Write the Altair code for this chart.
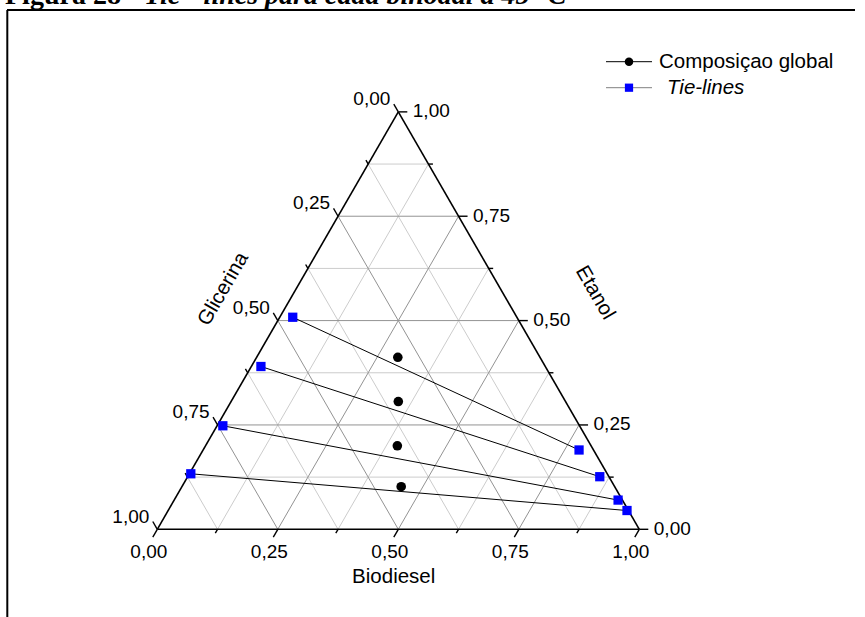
import math
import altair as alt
import pandas as pd

S3 = math.sqrt(3) / 2

# ---------------- data (mass fractions) ----------------
tie_left_biodiesel = [0.027, 0.020, 0.012, 0.003]
tie_left_etanol = [0.508, 0.390, 0.248, 0.133]
tie_left_glicerina = [0.465, 0.590, 0.740, 0.864]

tie_right_biodiesel = [0.780, 0.855, 0.921, 0.952]
tie_right_etanol = [0.190, 0.126, 0.070, 0.045]
tie_right_glicerina = [0.030, 0.019, 0.009, 0.003]

global_biodiesel = [0.293, 0.347, 0.398, 0.455]
global_etanol = [0.412, 0.306, 0.200, 0.102]
global_glicerina = [0.295, 0.347, 0.402, 0.443]

tick_values = [0.0, 0.125, 0.25, 0.375, 0.5, 0.625, 0.75, 0.875, 1.0]
major_values = [0.0, 0.25, 0.5, 0.75, 1.0]
tick_labels = ["0,00", "0,25", "0,50", "0,75", "1,00"]

legend_labels = ["Composiçao global", "Tie-lines"]
title_part1 = "Figura 28 -"
title_part2 = "Tie - lines para cada binodal a 45 °C"

# ---------------- geometry ----------------
PX = 482.0          # pixels per unit side of the triangle
X0, Y0 = 157.3, 529.3
FONT = "Liberation Sans, Arial, sans-serif"


def tern(b, e, g):
    s = b + e + g
    return (b + e / 2.0) / s, e * S3 / s


xs = alt.Scale(domain=[0, 1], range=[X0, X0 + PX], nice=False, zero=False)
ys = alt.Scale(domain=[0, S3], range=[Y0, Y0 - PX * S3], nice=False, zero=False)


def enc_pts():
    return dict(x=alt.X("x:Q", scale=xs, axis=None),
                y=alt.Y("y:Q", scale=ys, axis=None))


def enc_rule():
    return dict(x=alt.X("x:Q", scale=xs, axis=None),
                y=alt.Y("y:Q", scale=ys, axis=None),
                x2="x2:Q", y2="y2:Q")


# grid lines
grid_rows = []
for t in tick_values[1:-1]:
    kind = "major" if t in major_values else "minor"
    for p1, p2 in [((0, t, 1 - t), (1 - t, t, 0)),      # constant Etanol
                   ((t, 0, 1 - t), (t, 1 - t, 0)),      # constant Biodiesel
                   ((1 - t, 0, t), (0, 1 - t, t))]:     # constant Glicerina
        x1, y1 = tern(*p1)
        x2, y2 = tern(*p2)
        grid_rows.append(dict(x=x1, y=y1, x2=x2, y2=y2, kind=kind))
grid_df = pd.DataFrame(grid_rows)

minor_grid = alt.Chart(grid_df[grid_df.kind == "minor"]).mark_rule(
    color="#cccccc", strokeWidth=1).encode(**enc_rule())
major_grid = alt.Chart(grid_df[grid_df.kind == "major"]).mark_rule(
    color="#939393", strokeWidth=1).encode(**enc_rule())

# triangle edges
corners = [tern(0, 0, 1), tern(1, 0, 0), tern(0, 1, 0)]
edge_rows = []
for i in range(3):
    a, b = corners[i], corners[(i + 1) % 3]
    edge_rows.append(dict(x=a[0], y=a[1], x2=b[0], y2=b[1]))
edges = alt.Chart(pd.DataFrame(edge_rows)).mark_rule(
    color="black", strokeWidth=1.6).encode(**enc_rule())

# tick marks
tick_rows = []
for t in tick_values:
    L = (9.0 if t in major_values else 4.5) / PX
    bx, by = tern(t, 0, 1 - t)
    tick_rows.append(dict(x=bx, y=by, x2=bx - 0.5 * L, y2=by - S3 * L))
    rx, ry = tern(1 - t, t, 0)
    tick_rows.append(dict(x=rx, y=ry, x2=rx + L, y2=ry))
    lx, ly = tern(0, 1 - t, t)
    tick_rows.append(dict(x=lx, y=ly, x2=lx - 0.5 * L, y2=ly + S3 * L))
ticks = alt.Chart(pd.DataFrame(tick_rows)).mark_rule(
    color="black", strokeWidth=1.4).encode(**enc_rule())

# tick labels
bot_rows, right_rows, left_rows = [], [], []
for v, lab in zip(major_values, tick_labels):
    bx, by = tern(v, 0, 1 - v)
    bot_rows.append(dict(x=bx, y=by, label=lab))
    rx, ry = tern(1 - v, v, 0)
    right_rows.append(dict(x=rx, y=ry, label=lab))
    lx, ly = tern(0, 1 - v, v)
    left_rows.append(dict(x=lx, y=ly, label=lab))

lab_bottom = alt.Chart(pd.DataFrame(bot_rows)).mark_text(
    font=FONT, fontSize=19, align="center", baseline="alphabetic",
    dx=-8.5, dy=28.7, color="black").encode(text="label:N", **enc_pts())
lab_right = alt.Chart(pd.DataFrame(right_rows)).mark_text(
    font=FONT, fontSize=19, align="left", baseline="middle",
    dx=14.5, dy=-0.5, color="black").encode(text="label:N", **enc_pts())
lab_left = alt.Chart(pd.DataFrame(left_rows)).mark_text(
    font=FONT, fontSize=19, align="right", baseline="alphabetic",
    dx=-8, dy=-6.8, color="black").encode(text="label:N", **enc_pts())

# axis titles
bmx, bmy = tern(0.5, 0, 0.5)
gmx, gmy = tern(0, 0.5, 0.5)
emx, emy = tern(0.5, 0.5, 0)
g_off = 63.0 / PX
e_off, e_shift = 80.0 / PX, 14.0 / PX
titles_df = pd.DataFrame([
    dict(x=bmx, y=bmy, label="Biodiesel"),
])
t_bio = alt.Chart(titles_df).mark_text(
    font=FONT, fontSize=20.5, align="center", baseline="alphabetic",
    dx=-4.6, dy=53.7, color="black").encode(text="label:N", **enc_pts())
t_gli = alt.Chart(pd.DataFrame([dict(
    x=gmx - S3 * g_off, y=gmy + 0.5 * g_off, label="Glicerina")])).mark_text(
    font=FONT, fontSize=20.5, align="center", baseline="middle", angle=300,
    color="black").encode(text="label:N", **enc_pts())
t_eta = alt.Chart(pd.DataFrame([dict(
    x=emx + S3 * e_off + 0.5 * e_shift, y=emy + 0.5 * e_off - S3 * e_shift,
    label="Etanol")])).mark_text(
    font=FONT, fontSize=20.5, align="center", baseline="middle", angle=60,
    color="black").encode(text="label:N", **enc_pts())

# tie lines
tie_rows, end_rows = [], []
for i in range(len(tie_left_biodiesel)):
    x1, y1 = tern(tie_left_biodiesel[i], tie_left_etanol[i], tie_left_glicerina[i])
    x2, y2 = tern(tie_right_biodiesel[i], tie_right_etanol[i], tie_right_glicerina[i])
    tie_rows.append(dict(x=x1, y=y1, x2=x2, y2=y2))
    end_rows.append(dict(x=x1, y=y1))
    end_rows.append(dict(x=x2, y=y2))
tie_lines = alt.Chart(pd.DataFrame(tie_rows)).mark_rule(
    color="black", strokeWidth=1).encode(**enc_rule())
tie_ends = alt.Chart(pd.DataFrame(end_rows)).mark_point(
    shape="square", filled=True, color="#0000ff", size=86, opacity=1).encode(**enc_pts())

glob_rows = []
for b, e, g in zip(global_biodiesel, global_etanol, global_glicerina):
    x, y = tern(b, e, g)
    glob_rows.append(dict(x=x, y=y))
glob_pts = alt.Chart(pd.DataFrame(glob_rows)).mark_point(
    shape="circle", filled=True, color="black", size=92, opacity=1).encode(**enc_pts())

# legend (drawn manually)
one = pd.DataFrame({"a": [0]})
leg_l1 = alt.Chart(one).mark_rule(color="black", strokeWidth=1).encode(
    x=alt.value(606), x2=alt.value(652), y=alt.value(61.7))
leg_p1 = alt.Chart(one).mark_point(shape="circle", filled=True, color="black",
                                   size=72, opacity=1).encode(
    x=alt.value(629), y=alt.value(61.7))
leg_t1 = alt.Chart(one).mark_text(font=FONT, fontSize=20.5, align="left",
                                  baseline="middle", color="black",
                                  text=legend_labels[0]).encode(
    x=alt.value(659), y=alt.value(62))
leg_l2 = alt.Chart(one).mark_rule(color="#808080", strokeWidth=1).encode(
    x=alt.value(606), x2=alt.value(652), y=alt.value(87.7))
leg_p2 = alt.Chart(one).mark_point(shape="square", filled=True, color="#0000ff",
                                   size=68, opacity=1).encode(
    x=alt.value(629), y=alt.value(87.7))
leg_t2 = alt.Chart(one).mark_text(font=FONT, fontSize=20.5, align="left",
                                  baseline="middle", fontStyle="italic",
                                  color="black", text=legend_labels[1]).encode(
    x=alt.value(667), y=alt.value(88))

# page decorations: figure caption (cut at the top, as in the source) and frame
cap1 = alt.Chart(one).mark_text(font="Liberation Serif, Times New Roman, serif",
                                fontSize=28, fontWeight="bold", align="left",
                                baseline="alphabetic", color="black",
                                text=title_part1).encode(
    x=alt.value(5), y=alt.value(4))
cap2 = alt.Chart(one).mark_text(font="Liberation Serif, Times New Roman, serif",
                                fontSize=28, fontWeight="bold", fontStyle="italic",
                                align="left", baseline="alphabetic",
                                color="black", text=title_part2).encode(
    x=alt.value(144), y=alt.value(4))
frame_top = alt.Chart(one).mark_rule(color="black", strokeWidth=2).encode(
    x=alt.value(7), x2=alt.value(855), y=alt.value(10))
frame_left = alt.Chart(one).mark_rule(color="black", strokeWidth=2).encode(
    x=alt.value(7.3), y=alt.value(10), y2=alt.value(617))

chart = alt.layer(
    minor_grid, major_grid, tie_lines, edges, ticks,
    lab_bottom, lab_right, lab_left, t_bio, t_gli, t_eta,
    tie_ends, glob_pts,
    leg_l1, leg_p1, leg_t1, leg_l2, leg_p2, leg_t2,
    cap1, cap2, frame_top, frame_left,
).properties(
    width=865, height=617, padding=0, background="white",
    autosize=alt.AutoSizeParams(type="none"),
).configure_view(strokeWidth=0)

chart.save("out.html", embed_options={"renderer": "svg", "actions": False})
